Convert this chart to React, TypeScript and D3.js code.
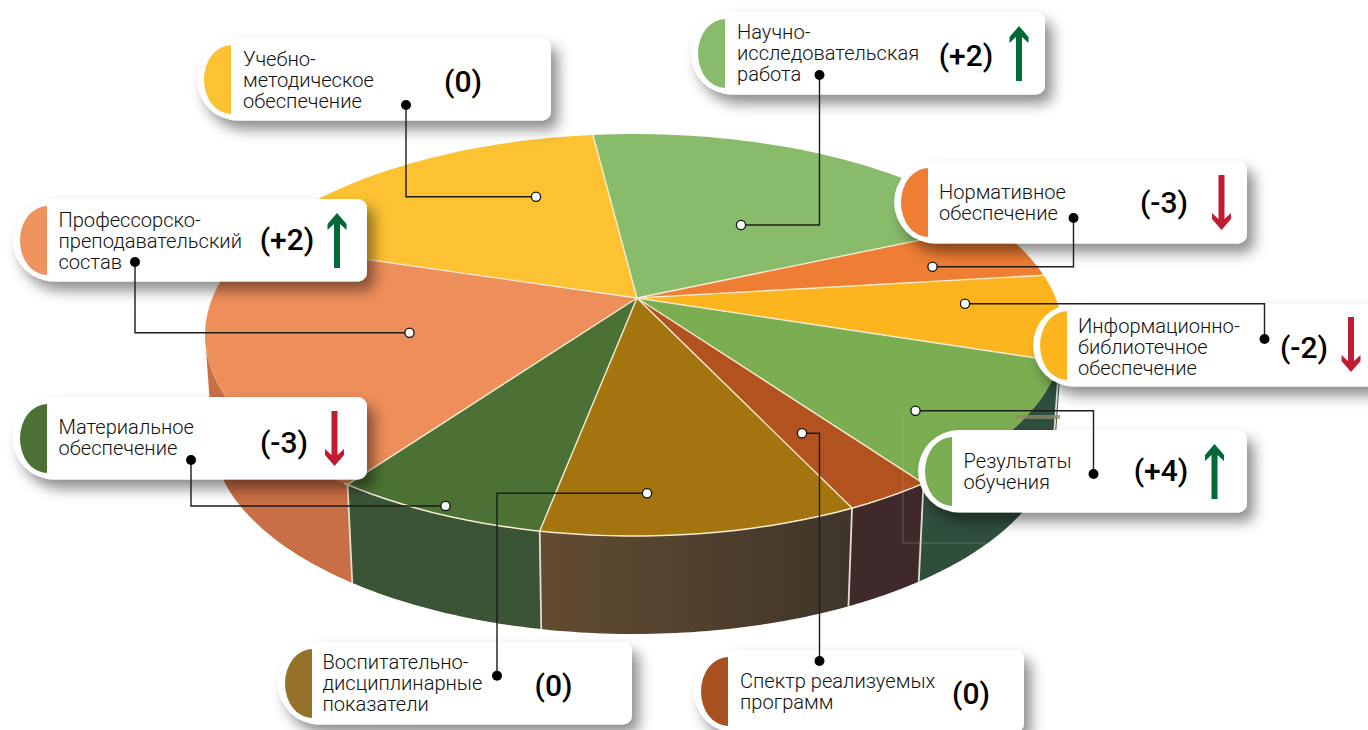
import React from "react";
import * as d3 from "d3";

// Data (slice shares of the full turn, starting at the top boundary)
const categories = [
  ["Научно-", "исследовательская", "работа"],
  ["Нормативное", "обеспечение"],
  ["Информационно-", "библиотечное", "обеспечение"],
  ["Результаты", "обучения"],
  ["Спектр реализуемых", "программ"],
  ["Воспитательно-", "дисциплинарные", "показатели"],
  ["Материальное", "обеспечение"],
  ["Профессорско-", "преподавательский", "состав"],
  ["Учебно-", "методическое", "обеспечение"],
];
const shares = [17.3, 4.4, 6.9, 11.1, 3.3, 12.0, 8.1, 20.9, 15.9];
const changes = [2, -3, -2, 4, 0, 0, -3, 2, 0];

const topColors = ["#88BC6A", "#EF7D33", "#FDB51F", "#7AAE50", "#B2521E", "#A4750F", "#4B7234", "#EE8E5A", "#FDC232"];
const sideColors = ["#2F4F3D", "#2F4F3D", "#2F4F3D", "#2F4F3D", "#40292A", "url(#brownSide)", "#3C5436", "#C96F45", "#C96F45"];
const swatchColors = ["#88BC6A", "#EF7D33", "#FDB51F", "#7AAE50", "#A8501F", "#96712A", "#4B7234", "#EF925E", "#FDC232"];

// Layout of the nine callouts, in the same order as the categories
const cards = [
  { x: 691, y: 12, w: 354, tx: 737, base: 39, vx: 966, vy: 55, ax: 1019, ay: 26, w1: [819.5, 75], mid: [819.5, 225], w2: [741, 225] },
  { x: 894, y: 161, w: 353, tx: 939, base: 199, vx: 1164, vy: 202, ax: 1221.5, ay: 175, w1: [1073.5, 218], mid: [1073.5, 266.7], w2: [932.5, 266.7] },
  { x: 1033, y: 304, w: 354, tx: 1078, base: 333, vx: 1304, vy: 347, ax: 1351, ay: 317, w1: [1264.5, 339], mid: [1264.5, 303.7], w2: [965, 303.7] },
  { x: 918, y: 430, w: 329, tx: 963.5, base: 468, vx: 1161, vy: 470, ax: 1214.5, ay: 444, w1: [1093.5, 474], mid: [1093.5, 410.7], w2: [915.5, 410.7] },
  { x: 694, y: 650, w: 330, tx: 740, base: 688, vx: 971, vy: 693, ax: 0, ay: 0, w1: [819.5, 661], mid: [819.5, 433.3], w2: [802, 433.3] },
  { x: 278, y: 642, w: 354, tx: 322.5, base: 669, vx: 553.5, vy: 685, ax: 0, ay: 0, w1: [497, 675.7], mid: [497, 493.3], w2: [647, 493.3] },
  { x: 13, y: 397, w: 354, tx: 58.5, base: 434, vx: 284, vy: 442, ax: 334.5, ay: 411, w1: [191, 460], mid: [191, 506], w2: [445.5, 506] },
  { x: 13, y: 199, w: 354, tx: 58.5, base: 227, vx: 287, vy: 239, ax: 337, ay: 213, w1: [135, 262], mid: [135, 332.7], w2: [409.5, 332.7] },
  { x: 197, y: 38, w: 354, tx: 243, base: 65.5, vx: 463, vy: 81.7, ax: 0, ay: 0, w1: [406, 105], mid: [406, 196.7], w2: [536, 196.7] },
];

const START = (-5.5 * Math.PI) / 180;
const apex: [number, number] = [637, 298];
const top = { cx: 634, cy: 335, rx: 429, ry: 201 };
const bottom = { cx: 634, cy: 434, rx: 422, ry: 200 };
const CARD_H = 82.5;
const ARROW_LEN = 55;
const PALE = "#F6EBD3";

const arcs = d3.pie<number>().sort(null).startAngle(START).endAngle(START + 2 * Math.PI)(shares);
const rim = (e: typeof top, a: number): [number, number] => [e.cx + e.rx * Math.sin(a), e.cy - e.ry * Math.cos(a)];
const samples = (a0: number, a1: number) => d3.range(0, 41).map((i) => a0 + ((a1 - a0) * i) / 40);
const line = d3.line();

function topPath(a0: number, a1: number) {
  return line([apex, ...samples(a0, a1).map((a) => rim(top, a))]) + "Z";
}
function sidePath(a0: number, a1: number) {
  const lo = Math.max(a0, Math.PI / 2);
  const hi = Math.min(a1, (3 * Math.PI) / 2);
  if (hi <= lo) return null;
  return line([...samples(lo, hi).map((a) => rim(top, a)), ...samples(hi, lo).map((a) => rim(bottom, a))]) + "Z";
}
function cardPath(x: number, y: number, w: number) {
  const h = CARD_H, rl = h / 2, rr = 9;
  return `M${x + rl},${y}H${x + w - rr}A${rr},${rr} 0 0 1 ${x + w},${y + rr}V${y + h - rr}A${rr},${rr} 0 0 1 ${x + w - rr},${y + h}H${x + rl}A${rl},${rl} 0 0 1 ${x + rl},${y}Z`;
}
function swatchPath(x: number, y: number) {
  return `M${x + 34},${y + 7}A27,34.5 0 0 0 ${x + 34},${y + 76}Z`;
}
function arrowPath(x: number, y: number, dir: number) {
  const y0 = dir > 0 ? y : y + ARROW_LEN;
  const s = dir;
  return line([
    [x, y0],
    [x + 9.5, y0 + s * 11],
    [x + 9.5, y0 + s * 17],
    [x + 3, y0 + s * 11],
    [x + 3, y0 + s * ARROW_LEN],
    [x - 3, y0 + s * ARROW_LEN],
    [x - 3, y0 + s * 11],
    [x - 9.5, y0 + s * 17],
    [x - 9.5, y0 + s * 11],
  ]) + "Z";
}
const fmt = (v: number) => (v > 0 ? `(+${v})` : `(${v})`);

export default function App() {
  return (
    <svg width={1368} height={730} viewBox="0 0 1368 730" style={{ position: "absolute", left: 0, top: 0, background: "#fff" }}>
      <defs>
        <filter id="cardShadow" x="-15%" y="-30%" width="140%" height="190%">
          <feDropShadow dx={7} dy={9} stdDeviation={7} floodColor="#000" floodOpacity={0.45} />
        </filter>
        <linearGradient id="brownSide" gradientUnits="userSpaceOnUse" x1={540} x2={850} y1={0} y2={0}>
          <stop offset="0" stopColor="#624C31" />
          <stop offset="1" stopColor="#3F352A" />
        </linearGradient>
      </defs>

      {arcs.map((d, i) => {
        const p = sidePath(d.startAngle, d.endAngle);
        return p ? <path key={i} d={p} fill={sideColors[i]} /> : null;
      })}
      {arcs.map((d, i) => {
        const a = d.startAngle;
        if (a < Math.PI / 2 || a > (3 * Math.PI) / 2) return null;
        return <path key={i} d={line([rim(top, a), rim(bottom, a)])!} stroke="#E4DDCF" strokeWidth={1.8} fill="none" />;
      })}
      {arcs.map((d, i) => (
        <path key={i} d={topPath(d.startAngle, d.endAngle)} fill={topColors[i]} />
      ))}
      <path d={line(samples((125 * Math.PI) / 180, (222.5 * Math.PI) / 180).map((a) => rim(top, a)))!} fill="none" stroke={PALE} strokeWidth={1.5} />
      {arcs.map((d, i) => (
        <path key={i} d={line([apex, rim(top, d.startAngle)])!} fill="none" stroke={PALE} strokeWidth={1.4} />
      ))}
      <rect x={1016} y={415} width={44} height={4} fill="#8F8A6E" opacity={0.75} />
      <path d="M903,414V543H985" fill="none" stroke="#C9C9C0" strokeWidth={0.7} opacity={0.4} />

      {cards.map((c, i) => (
        <g key={i}>
          <path d={cardPath(c.x, c.y, c.w)} fill="#fff" filter="url(#cardShadow)" />
          <path d={swatchPath(c.x, c.y)} fill={swatchColors[i]} />
          <text fontFamily="Roboto" fontWeight={300} fontSize={20.1} fill="#111">
            {categories[i].map((t, k) => (
              <tspan key={k} x={c.tx} y={c.base + k * 21}>{t}</tspan>
            ))}
          </text>
          <text x={c.vx} y={c.vy + 10.5} textAnchor="middle" fontFamily="Roboto" fontWeight={500} fontSize={30} fill="#000">{fmt(changes[i])}</text>
          {changes[i] !== 0 && (
            <path d={arrowPath(c.ax, c.ay, changes[i] > 0 ? 1 : -1)} fill={changes[i] > 0 ? "#026937" : "#C01C33"} />
          )}
        </g>
      ))}

      {cards.map((c, i) => (
        <g key={i}>
          <path d={line([c.w1 as [number, number], c.mid as [number, number], c.w2 as [number, number]])!} fill="none" stroke="#1c1c1c" strokeWidth={1.4} />
          <circle cx={c.w1[0]} cy={c.w1[1]} r={5} fill="#000" />
          <circle cx={c.w2[0]} cy={c.w2[1]} r={4.6} fill="#fff" stroke="#111" strokeWidth={1.3} />
        </g>
      ))}
    </svg>
  );
}
